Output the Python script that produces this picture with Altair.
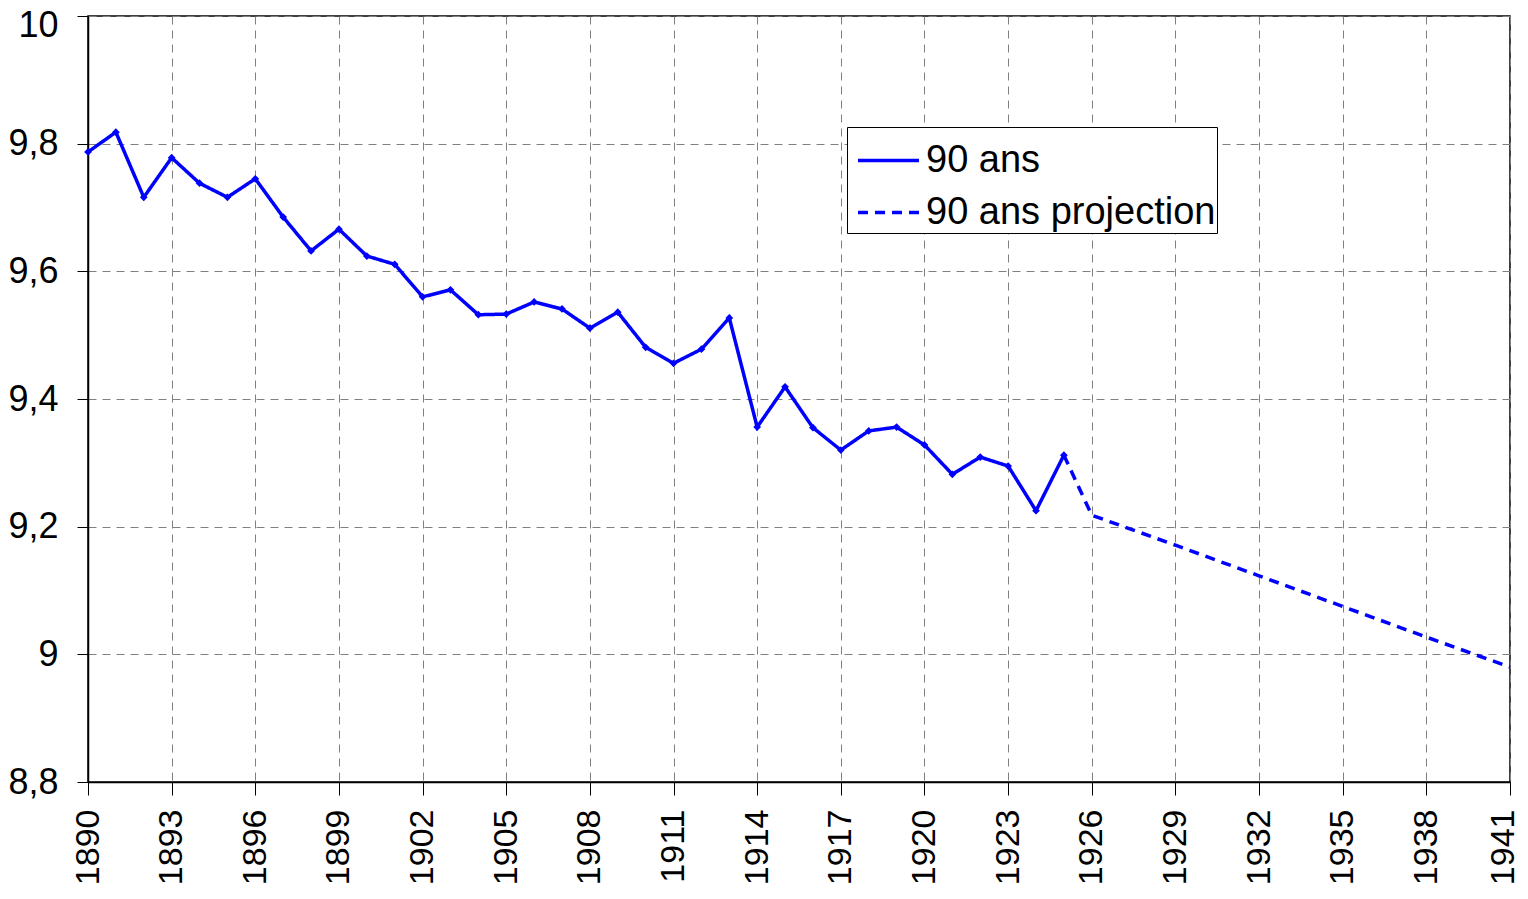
import altair as alt
import pandas as pd

years_obs = list(range(1890, 1926))
values_obs = [9.787, 9.818, 9.716, 9.778, 9.738, 9.716, 9.745, 9.685, 9.632, 9.666,
              9.624, 9.611, 9.560, 9.571, 9.532, 9.533, 9.552, 9.541, 9.511, 9.536,
              9.481, 9.456, 9.478, 9.527, 9.356, 9.419, 9.355, 9.320, 9.350, 9.356,
              9.328, 9.282, 9.309, 9.295, 9.225, 9.312]

years_proj = [1925, 1926, 1929, 1932, 1935, 1938, 1941]
values_proj = [9.312, 9.218, 9.171, 9.123, 9.075, 9.027, 8.980]

series_names = ["90 ans", "90 ans projection"]
x_ticks = list(range(1890, 1942, 3))
y_ticks = [8.8, 9.0, 9.2, 9.4, 9.6, 9.8, 10.0]

df = pd.concat([
    pd.DataFrame({"year": years_obs, "value": values_obs, "series": series_names[0]}),
    pd.DataFrame({"year": years_proj, "value": values_proj, "series": series_names[1]}),
])

BLUE = "#0000ff"
FONT = "Liberation Sans"

x_enc = alt.X("year:Q", scale=alt.Scale(domain=[1890, 1941], nice=False, zero=False),
              axis=alt.Axis(values=x_ticks, format="d", labelAngle=-90, tickSize=13,
                            labelPadding=14, title=None, labelFontSize=34,
                            labelOffset={"condition": {"test": "datum.value >= 1941", "value": -7}, "value": 0}))
y_enc = alt.Y("value:Q", scale=alt.Scale(domain=[8.8, 10.0], nice=False, zero=False),
              axis=alt.Axis(values=y_ticks, tickSize=11, labelPadding=19, title=None,
                            labelFontSize=36,
                            labelOffset={"condition": {"test": "datum.value >= 9.99", "value": 9}, "value": 0},
                            labelExpr="abs(datum.value - round(datum.value)) < 0.001 ? format(datum.value, 'd') : replace(format(datum.value, '.1f'), '.', ',')"))

lines = alt.Chart(df).mark_line(color=BLUE, strokeWidth=3.5).encode(
    x=x_enc,
    y=y_enc,
    strokeDash=alt.StrokeDash(
        "series:N",
        scale=alt.Scale(domain=series_names, range=[[1, 0], [10, 7]]),
        legend=alt.Legend(
            title=None, orient="none", legendX=759, legendY=111,
            symbolType="stroke", symbolSize=3721, symbolStrokeWidth=3.5,
            symbolStrokeColor=BLUE, labelFontSize=38, labelFont=FONT,
            labelColor="black", labelLimit=500, rowPadding=0,
            labelExpr="datum.label + ' '",
            strokeColor="black", fillColor="white", padding=1,
            symbolOffset=8, labelOffset=5, cornerRadius=0,
        ),
    ),
)

points = alt.Chart(df).transform_filter(
    alt.datum.series == series_names[0]
).mark_point(shape="diamond", filled=True, color=BLUE, size=60, opacity=1).encode(
    x="year:Q", y="value:Q"
)

chart = alt.layer(lines, points).properties(
    width=1422, height=766,
    autosize=alt.AutoSizeParams(type="none"),
    padding={"left": 80, "top": 8, "right": 10, "bottom": 104},
).configure_view(
    stroke="black", strokeWidth=1.5
).configure_axis(
    labelFont=FONT, labelColor="black",
    domainColor="black", domainWidth=1.5, tickColor="black", tickWidth=1,
    grid=True, gridColor="#808080", gridDash=[8, 6], gridWidth=1,
)

chart.save("out.html", embed_options={"renderer": "svg", "actions": False})
